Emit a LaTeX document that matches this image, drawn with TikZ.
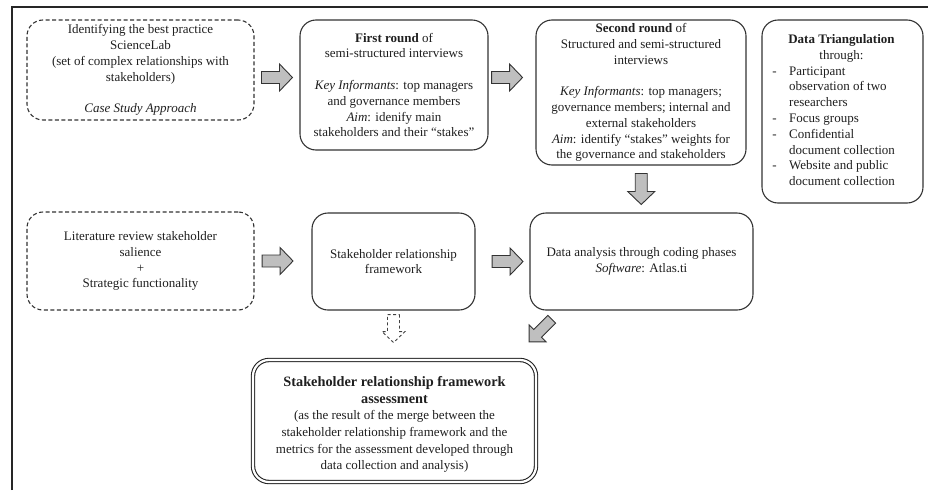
\documentclass[tikz,border=0pt]{standalone}
\usepackage{fontspec}
\setmainfont{Liberation Serif}
\usetikzlibrary{calc}
\newcommand{\htitle}[1]{{\fontsize{14.3}{17}\selectfont\bfseries #1}}
\begin{document}
\begin{tikzpicture}[x=1pt,y=-1pt,
  every node/.style={font=\fontsize{13}{15.8}\selectfont, text=black!88},
  solidbox/.style={draw=black!80, line width=1.1pt, rounded corners=16pt, align=center, inner sep=0pt},
  dashbox/.style={draw=black!80, line width=1.1pt, dash pattern=on 4pt off 2.5pt, rounded corners=16pt, align=center, inner sep=0pt},
  dblbox/.style={draw=black!85, double, double distance=2.2pt, line width=1.1pt, rounded corners=16pt, align=center, inner sep=0pt},
  arrowfill/.style={draw=black!80, line width=0.9pt, fill=black!25, line join=miter},
  arrowdash/.style={draw=black!75, line width=0.9pt, dash pattern=on 3pt off 2.5pt},
  barrow/.pic={\draw[arrowfill] (-15.5,-6) -- (2.5,-6) -- (2.5,-13.5) -- (15.5,0) -- (2.5,13.5) -- (2.5,6) -- (-15.5,6) -- cycle;},
  darrow/.pic={\draw[arrowdash] (-14,-6) -- (3,-6) -- (3,-11.5) -- (14,0) -- (3,11.5) -- (3,6) -- (-14,6) -- cycle;},
  sarrow/.pic={\draw[arrowfill] (-16,-5.5) -- (4,-5.5) -- (4,-12) -- (16,0) -- (4,12) -- (4,5.5) -- (-16,5.5) -- cycle;}
]
\useasboundingbox (0,0) rectangle (928,490);
\draw[line width=2pt, black!85] (12,490) -- (12,7) -- (928,7);

\node[dashbox, minimum width=227pt, minimum height=100pt] (A) at (140.5,70)
  {Identifying the best practice\\ScienceLab\\(set of complex relationships with\\stakeholders)\\[15.8pt]\textit{Case Study Approach}};
\node[solidbox, minimum width=188pt, minimum height=130pt] (B) at (394,85)
  {\textbf{First round} of\\semi-structured interviews\\[15.8pt]\textit{Key Informants}: top managers\\and governance members\\\textit{Aim}: idenify main\\stakeholders and their ``stakes''};
\node[solidbox, minimum width=210pt, minimum height=145pt] (C) at (641,92.5)
  {\textbf{Second round} of\\Structured and semi-structured\\interviews\\[15.8pt]\textit{Key Informants}: top managers;\\governance members; internal and\\external stakeholders\\\textit{Aim}: identify ``stakes'' weights for\\the governance and stakeholders};
\node[solidbox, minimum width=161pt, minimum height=183pt] (D) at (842.5,111.5)
  {\begin{tabular}{@{}l@{\hspace{12.5pt}}l@{}}
   \multicolumn{2}{c}{\hspace*{10pt}\textbf{Data Triangulation}}\\
   \multicolumn{2}{c}{\hspace*{10pt}through:}\\
   - & Participant\\
     & observation of two\\
     & researchers\\
   - & Focus groups\\
   - & Confidential\\
     & document collection\\
   - & Website and public\\
     & document collection
   \end{tabular}\hspace*{12pt}};
\node[dashbox, minimum width=227pt, minimum height=98pt] (E) at (140.5,261)
  {Literature review stakeholder\\salience\\+\\Strategic functionality};
\node[solidbox, minimum width=163pt, minimum height=97pt] (F) at (393.5,261.5)
  {Stakeholder relationship\\framework};
\node[solidbox, minimum width=223pt, minimum height=97pt] (G) at (641.5,261.5)
  {Data analysis through coding phases\\\textit{Software}: Atlas.ti};
\node[dblbox, minimum width=283pt, minimum height=122pt, font=\fontsize{13}{16.6}\selectfont] (H) at (394.5,421)
  {\rule{0pt}{17pt}\htitle{Stakeholder relationship framework}\\
   \htitle{assessment}\\
   (as the result of the merge between the\\
   stakeholder relationship framework and the\\
   metrics for the assessment developed through\\
   data collection and analysis)};

\coordinate (ab) at ($(A.east)!0.5!(B.west)$);
\coordinate (bc) at ([xshift=18.5pt]B.east |- ab);
\coordinate (cg) at ($(C.south)!0.5!(G.north)$);
\coordinate (ef) at ([xshift=23pt]E.east);
\coordinate (fg) at ([xshift=32pt]F.east);
\coordinate (fh) at ($(F.south)+(0,18)$);
\coordinate (gh) at ($(G.south west)+(11,20)$);
\pic at (ab) {barrow};
\pic at (bc) {barrow};
\pic[rotate=270] at (cg) {barrow};
\pic at (ef) {barrow};
\pic at (fg) {barrow};
\pic[rotate=270] at (fh) {darrow};
\pic[rotate=225] at (gh) {sarrow};
\end{tikzpicture}
\end{document}
